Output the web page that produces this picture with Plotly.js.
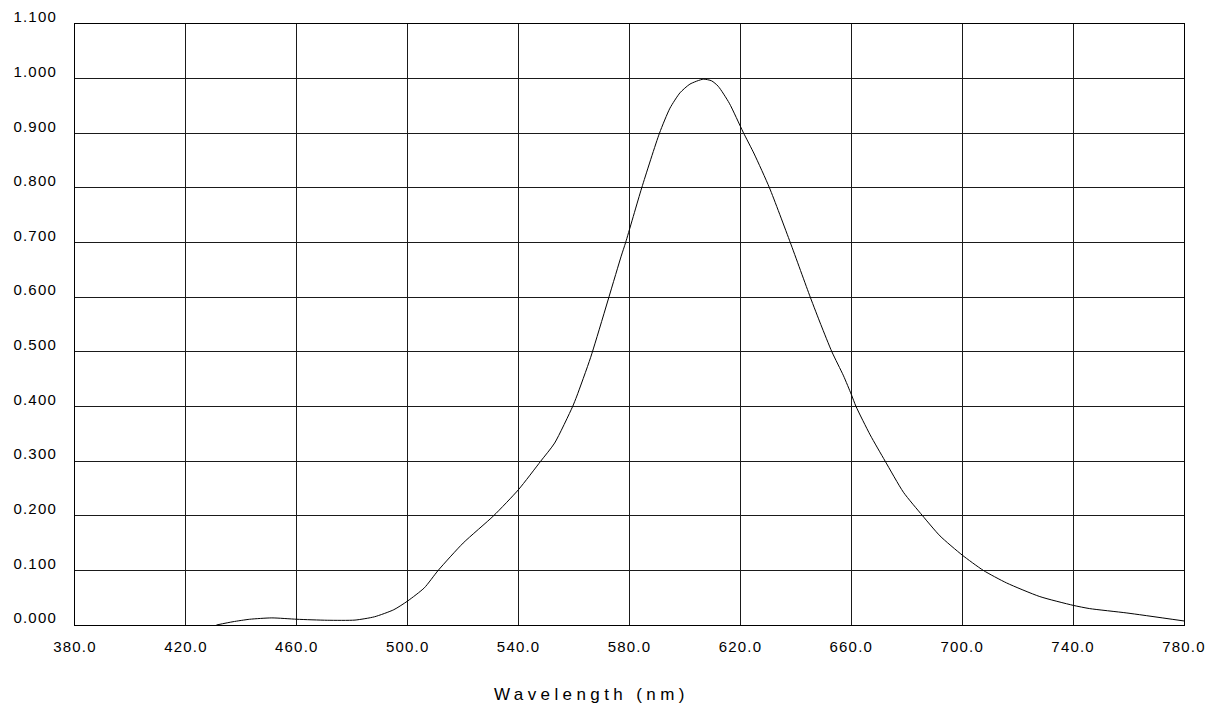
<!DOCTYPE html>
<html>
<head>
<meta charset="utf-8">
<script src="https://cdn.plot.ly/plotly-3.0.1.min.js"></script>
<style>
html, body { margin: 0; padding: 0; background: #fff; }
#chart { width: 1208px; height: 711px; }
.xtick text, .ytick text { letter-spacing: 1.2px; }
.annotation-text { letter-spacing: 4.4px; }
</style>
</head>
<body>
<div id="chart"></div>
<script>
// Wavelength (nm)
const wavelength = [431, 437, 443, 451, 460, 471, 481, 488, 495, 500, 506, 511, 520, 531, 540, 548, 553, 559.5, 561, 566,
  577, 578.6, 584.4, 590.8, 594.6, 598.2, 601.8, 606.6, 609.6, 612, 616, 621, 625, 630.5, 638, 645.2, 649, 653, 657.2,
  660, 661.7, 666.8, 672.2, 678.8, 685.7, 692, 700, 707.6, 716, 728, 740, 746, 759.4, 780];
// Relative intensity
const intensity = [0, 0.006, 0.0105, 0.013, 0.0105, 0.0087, 0.009, 0.015, 0.028, 0.044, 0.068, 0.1, 0.15, 0.2, 0.248, 0.3, 0.333, 0.4, 0.419, 0.49,
  0.675, 0.7, 0.8, 0.9, 0.946, 0.974, 0.99, 0.999, 0.996, 0.986, 0.955, 0.902, 0.862, 0.8, 0.7, 0.6, 0.55, 0.5, 0.456,
  0.422, 0.4, 0.348, 0.3, 0.243, 0.2, 0.163, 0.128, 0.1, 0.077, 0.052, 0.036, 0.030, 0.022, 0.0074];

const xTickVals = [380, 420, 460, 500, 540, 580, 620, 660, 700, 740, 780];
const xTickText = ["380.0", "420.0", "460.0", "500.0", "540.0", "580.0", "620.0", "660.0", "700.0", "740.0", "780.0"];
const yTickVals = [0, 0.1, 0.2, 0.3, 0.4, 0.5, 0.6, 0.7, 0.8, 0.9, 1.0, 1.1];
const yTickText = ["0.000", "0.100", "0.200", "0.300", "0.400", "0.500", "0.600", "0.700", "0.800", "0.900", "1.000", "1.100"];
const xTitle = "Wavelength (nm)";

const font = "Liberation Sans, Arial, sans-serif";

const trace = {
  x: wavelength,
  y: intensity,
  type: "scatter",
  mode: "lines",
  line: { color: "#000", width: 1, shape: "spline", smoothing: 0.6 },
  hoverinfo: "x+y"
};

const layout = {
  width: 1208,
  height: 711,
  margin: { l: 75, r: 24, t: 24, b: 86 },
  paper_bgcolor: "#fff",
  plot_bgcolor: "#fff",
  showlegend: false,
  font: { family: font, size: 15, color: "#000" },
  xaxis: {
    range: [380, 780],
    tickmode: "array",
    tickvals: xTickVals,
    ticktext: xTickText,
    ticks: "",
    ticklabelstandoff: 8,
    showgrid: true,
    gridcolor: "#1a1a1a",
    gridwidth: 1,
    zeroline: false,
    showline: true,
    linecolor: "#000",
    linewidth: 1,
    mirror: true,
    tickfont: { family: font, size: 15, color: "#000" },
    fixedrange: true
  },
  yaxis: {
    range: [0, 1.1],
    tickmode: "array",
    tickvals: yTickVals,
    ticktext: yTickText,
    ticks: "",
    ticklabelstandoff: 14,
    ticklabelshift: -7,
    showgrid: true,
    gridcolor: "#1a1a1a",
    gridwidth: 1,
    zeroline: false,
    showline: true,
    linecolor: "#000",
    linewidth: 1,
    mirror: true,
    tickfont: { family: font, size: 15, color: "#000" },
    fixedrange: true
  },
  annotations: [{
    text: xTitle,
    xref: "paper", yref: "paper",
    x: 0.466, y: -0.115,
    xanchor: "center", yanchor: "middle",
    showarrow: false,
    font: { family: font, size: 17, color: "#000" }
  }]
};

Plotly.newPlot("chart", [trace], layout, { displayModeBar: false, staticPlot: true });
</script>
</body>
</html>
